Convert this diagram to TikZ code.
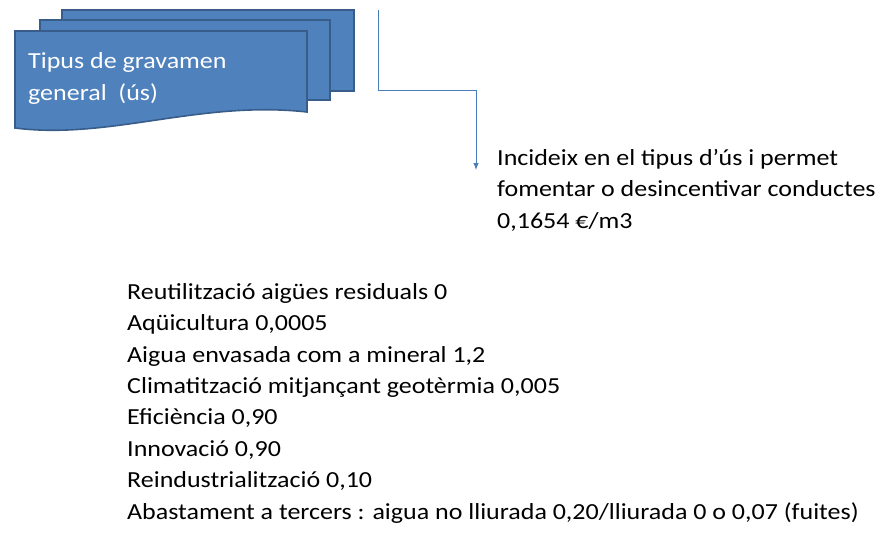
\documentclass[tikz,border=0pt]{standalone}
\usepackage{fontspec}
\setmainfont{Carlito}
\newfontfamily\widefont[FakeStretch=1.13]{Carlito}
\usetikzlibrary{arrows.meta}
\definecolor{docfill}{HTML}{4F81BD}
\definecolor{docline}{HTML}{385D8A}
\definecolor{arrowblue}{HTML}{4A7EBB}
\tikzset{
  docsheet/.style={fill=docfill, draw=docline, line width=1.6pt},
  bodytext/.style={anchor=base west, inner sep=0pt, align=left,
    font=\widefont\fontsize{23}{31.4}\selectfont}
}
\begin{document}
\begin{tikzpicture}[x=1pt,y=-1pt]
  \useasboundingbox (0,0) rectangle (891,544);
  % pila de fulls
  \draw[docsheet] (62,10) rectangle (354,91);
  \draw[docsheet] (40,20) rectangle (330,100);
  \draw[docsheet] (15,31) -- (307,31) -- (307,112)
      .. controls (200,100) and (110,140) .. (15,128) -- cycle;
  \node[bodytext, text=white, font=\widefont\fontsize{23}{32}\selectfont]
        (gravamen) at (28,100) {Tipus de gravamen\\general~ (ús)};
  % connector
  \coordinate (top) at (378,10);
  \coordinate (tip) at (476,170);
  \node[bodytext] (incideix) at (497,228)
        {Incideix en el tipus d’ús i permet\\fomentar o desincentivar conductes\\0,1654 €/m3};
  \draw[arrowblue, line width=0.9pt, -{Latex[length=7pt,width=5.5pt]}]
        (top) |- (476,90) -- (tip);
  \node[bodytext] (llista) at (127,519)
        {Reutilització aigües residuals 0\\
         Aqüicultura 0,0005\\
         Aigua envasada com a mineral 1,2\\
         Climatització mitjançant geotèrmia 0,005\\
         Eficiència 0,90\\
         Innovació 0,90\\
         Reindustrialització 0,10\\
         Abastament a tercers : aigua no lliurada 0,20/lliurada 0 o 0,07 (fuites)};
\end{tikzpicture}
\end{document}
